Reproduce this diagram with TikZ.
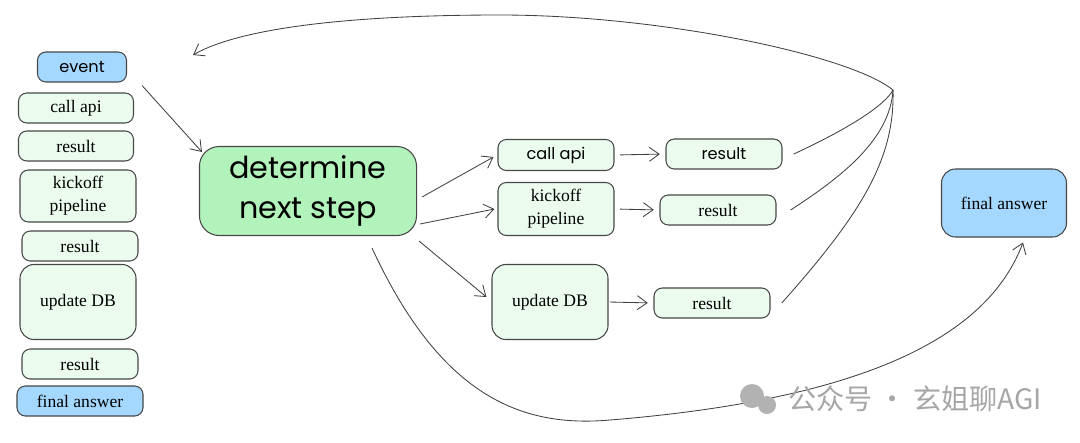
\documentclass[tikz,border=0pt]{standalone}
\usepackage{fontspec}
\setmainfont{Liberation Serif}
\newfontfamily\handfont{Poppins}
\newfontfamily\cjkfont{Noto Sans CJK SC}
\usetikzlibrary{positioning,arrows.meta}

\definecolor{paleGreen}{HTML}{EBFBEE}
\definecolor{midGreen}{HTML}{B2F2BB}
\definecolor{skyBlue}{HTML}{A5D8FF}
\definecolor{edgeGray}{HTML}{474747}

\tikzset{
  task/.style={draw=edgeGray, fill=paleGreen, rounded corners=6pt, line width=0.75pt,
               minimum width=2.9cm, minimum height=0.75cm, align=center,
               font=\fontsize{12.5}{16.5}\selectfont},
  answer/.style={task, fill=skyBlue},
  hand/.style={font=\handfont\fontsize{11.5}{13}\selectfont},
  flow/.style={->, line width=0.6pt, draw=black!75},
  link/.style={line width=0.6pt, draw=black!75},
  gap/.style={shorten <=4pt, shorten >=4pt}
}

\begin{document}
\begin{tikzpicture}[x=0.025cm, y=-0.025cm, >={Straight Barb[length=7pt,width=10pt]}]
\useasboundingbox (0,0) rectangle (1080,442);

% history column
\node[answer, hand, minimum width=2.225cm] (E) at (82,67) {event};
\node[task, minimum width=2.875cm] (CA) at (76,108) {call api};
\node[task, minimum width=2.875cm] (R1) at (76,146) {result};
\node[task, minimum height=1.3cm] (KP) at (78,196) {kickoff\\pipeline};
\node[task] (R2) at (80,246) {result};
\node[task, minimum height=1.875cm, rounded corners=10pt] (UD) at (78,302) {update DB};
\node[task] (R3) at (80,364) {result};
\node[answer, minimum width=3.15cm] (FA) at (80,401) {final answer};

% decision
\node[draw=edgeGray, fill=midGreen, rounded corners=14pt, line width=0.75pt,
      minimum width=5.425cm, minimum height=2.225cm, align=center,
      font=\handfont\fontsize{21.5}{28}\selectfont] (DNS) at (308,191) {determine\\next step};

% tools
\node[task, hand, minimum height=0.775cm] (MCA) at (556,155) {call api};
\node[task, minimum height=1.325cm] (MKP) at (556,209) {kickoff\\pipeline};
\node[task, minimum height=1.875cm, rounded corners=10pt] (MUD) at (550,302) {update DB};

\node[task, hand] (MR1) at (724,154) {result};
\node[task] (MR2) at (718,210) {result};
\node[task] (MR3) at (712,303) {result};

\node[answer, minimum width=3.125cm, minimum height=1.7cm, rounded corners=10pt] (FIN) at (1004,203) {final answer};

\coordinate (J) at (893,90);
\coordinate (back) at (193,55);

\draw[flow] ([shift={(15,3)}]E.south east) -- ([shift={(3,6)}]DNS.north west);
\draw[flow] ([shift={(5,6)}]DNS.east) -- ([shift={(-4,2)}]MCA.west);
\draw[flow] ([shift={(3,33)}]DNS.east) -- ([shift={(-3,0)}]MKP.west);
\draw[flow] ([shift={(2,5)}]DNS.south east) -- ([shift={(-5,-5)}]MUD.west);

\draw[flow, gap] (MCA.east) -- (MR1.west);
\draw[flow, gap] (MKP.east) -- (MR2.west);
\draw[flow, gap, shorten <=1pt] (MUD.east) -- (MR3.west);

% results loop back
\draw[link] ([xshift=8pt]MR1.east) .. controls (850,128) and (885,105) .. (J);
\draw[link] ([xshift=10pt]MR2.east) .. controls (840,178) and (890,140) .. (J);
\draw[link] ([xshift=8pt]MR3.east) .. controls (860,215) and (895,160) .. (J);
\draw[flow] (J) .. controls (850,55) and (660,15) .. (500,15)
                .. controls (350,15) and (240,28) .. (back);

\draw[flow] ([shift={(64,12)}]DNS.south) .. controls (440,395) and (520,428) .. (610,420)
            .. controls (880,398) and (990,330) .. ([shift={(19,5)}]FIN.south);

% watermark
\fill[black!30] (752,396) circle (12);
\fill[black!30] (767,405) circle (9);
\node[text=black!35, font=\cjkfont\fontsize{20}{22}\selectfont] (WM) at (915,399) {公众号 · 玄姐聊AGI};
\end{tikzpicture}
\end{document}
